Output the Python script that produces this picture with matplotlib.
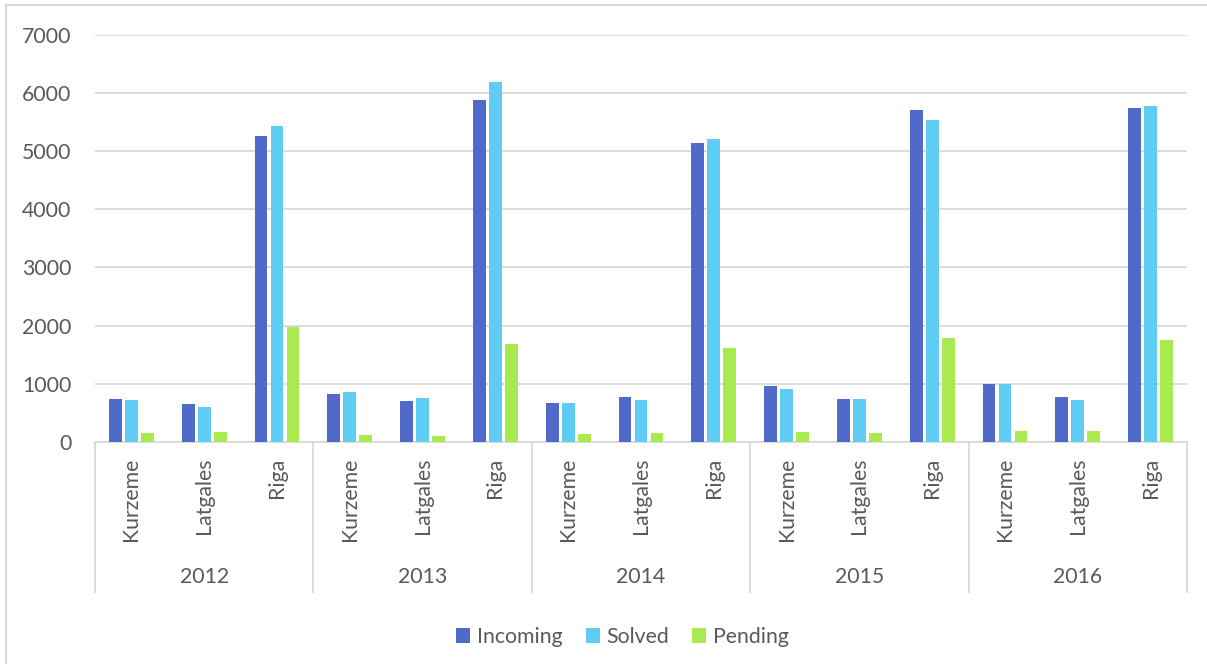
import matplotlib
matplotlib.use("Agg")
import matplotlib.pyplot as plt
from matplotlib.patches import Patch
from matplotlib.lines import Line2D
import numpy as np

# Case counts per year and region
years = ["2012", "2013", "2014", "2015", "2016"]
regions = ["Kurzeme", "Latgales", "Riga"]
incoming = [735, 649, 5256,   833, 700, 5881,   671, 781, 5146,   964, 740, 5714,   1005, 769, 5743]
solved   = [717, 609, 5428,   861, 764, 6191,   671, 723, 5215,   918, 746, 5542,   998, 723, 5778]
pending  = [150, 167, 1974,   115, 103, 1687,   132, 155, 1613,   172, 155, 1785,   189, 195, 1756]
series_names = ["Incoming", "Solved", "Pending"]
colors = ["#4F6AC8", "#5ECCF3", "#A9EA4E"]

W, H = 1207, 664
plt.rcParams["font.family"] = ["Lato", "DejaVu Sans"]
text_color = "#595959"
grid_color = "#D9D9D9"

fig = plt.figure(figsize=(W / 100, H / 100), dpi=100)
ax_left, ax_right, ax_top, ax_bottom = 95, 1187, 34.7, 442
ax = fig.add_axes([ax_left / W, 1 - ax_bottom / H,
                   (ax_right - ax_left) / W, (ax_bottom - ax_top) / H])

n = len(years) * len(regions)
x = np.arange(n)
pitch = 0.22
bar_w = 0.178
for i, (vals, c, name) in enumerate(zip([incoming, solved, pending], colors, series_names)):
    ax.bar(x + (i - 1) * pitch, vals, width=bar_w, color=c, label=name, zorder=3)

ax.set_xlim(-0.5, n - 0.5)
ax.set_ylim(0, 7000)
ax.set_yticks(np.arange(0, 7001, 1000))
ax.yaxis.grid(True, color=grid_color, linewidth=1.3, zorder=0)
ax.set_axisbelow(True)
for s in ["top", "right", "left"]:
    ax.spines[s].set_visible(False)
ax.spines["bottom"].set_color(grid_color)
ax.spines["bottom"].set_linewidth(1.3)
ax.tick_params(axis="y", length=0, pad=17, labelsize=15.3, labelcolor=text_color)
ax.tick_params(axis="x", length=0, labelbottom=False)

# Two-level category axis: regions (rotated) and years with separators
ax_h = ax_bottom - ax_top
def frac(py):
    return (ax_bottom - py) / ax_h

trans = ax.get_xaxis_transform()
for k in range(len(years) + 1):
    xs = k * len(regions) - 0.5
    ax.add_line(Line2D([xs, xs], [0, frac(592)], transform=trans,
                       color=grid_color, linewidth=1.3, clip_on=False))
for j in range(n):
    ax.text(x[j], frac(458), regions[j % len(regions)], transform=trans,
            rotation=90, ha="center", va="top", fontsize=15.3,
            color=text_color, clip_on=False)
for k, yr in enumerate(years):
    ax.text(k * len(regions) + 1, frac(577), yr, transform=trans,
            ha="center", va="center", fontsize=15.3, color=text_color,
            clip_on=False)

handles = [Patch(facecolor=c, edgecolor="none", label=nm) for c, nm in zip(colors, series_names)]
leg = fig.legend(handles=handles, loc="center", bbox_to_anchor=(622.5 / W, 1 - 637 / H),
                 ncol=3, frameon=False, fontsize=15.3, handlelength=0.66,
                 handleheight=0.66, handletextpad=0.3, columnspacing=1.1)
for t in leg.get_texts():
    t.set_color(text_color)

# Chart frame
fig.add_artist(Line2D([5.5 / W, 5.5 / W], [0, 1 - 5 / H], transform=fig.transFigure,
                      color=grid_color, linewidth=1.5))
fig.add_artist(Line2D([5.5 / W, 1], [1 - 5 / H, 1 - 5 / H], transform=fig.transFigure,
                      color=grid_color, linewidth=1.5))

fig.savefig("out.png", dpi=100)
